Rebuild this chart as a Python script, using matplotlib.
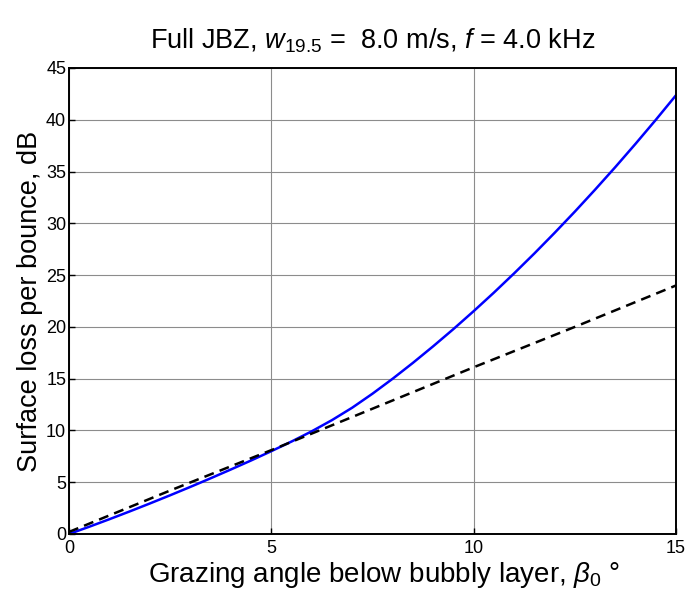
import numpy as np
import matplotlib
matplotlib.use("Agg")
from matplotlib import pyplot as plt

plt.rcParams['font.family'] = ['Liberation Sans', 'DejaVu Sans']
plt.rcParams['mathtext.fontset'] = 'custom'
plt.rcParams['mathtext.rm'] = 'Liberation Sans'
plt.rcParams['mathtext.it'] = 'Liberation Sans:italic'

# full JBZ curve (blue)
angle_full = [0, 0.5, 1, 1.5, 2, 2.5, 3, 3.5, 4, 4.5, 5, 5.5, 6, 6.5, 7, 7.5,
              8, 8.5, 9, 9.5, 10, 10.5, 11, 11.5, 12, 12.5, 13, 13.5, 14, 14.5, 15]
loss_full = [0.0, 0.7, 1.43, 2.18, 2.95, 3.74, 4.55, 5.38, 6.23, 7.1, 8.0, 8.93,
             9.92, 11.0, 12.2, 13.55, 15.0, 16.53, 18.13, 19.79, 21.52, 23.31, 25.17,
             27.09, 29.08, 31.13, 33.25, 35.43, 37.68, 39.99, 42.37]

# dashed reference line
angle_ref = [0, 2.5, 5, 7.5, 10, 12.5, 15]
loss_ref = [0.2, 4.2, 8.1, 12.1, 16.1, 20.0, 24.0]

fig = plt.figure(figsize=(6.88, 5.89), dpi=100)
ax = fig.add_axes([69 / 688, 1 - 534 / 589, (676 - 69) / 688, (534 - 68) / 589])

ax.plot(angle_full, loss_full, color='#0000ff', lw=1.8)
ax.plot(angle_ref, loss_ref, color='black', lw=1.8, ls=(0, (4, 2.5)))

ax.set_xlim(0, 15)
ax.set_ylim(0, 45)
ax.set_xticks([0, 5, 10, 15])
ax.set_yticks(range(0, 46, 5))
ax.grid(True, color='#8c8c8c', lw=0.8)
ax.tick_params(direction='in', labelsize=13, length=4, width=1, pad=2)
ax.tick_params(axis='x', pad=4)
for s in ax.spines.values():
    s.set_linewidth(1.4)

ax.set_title(r"Full JBZ, $w_{19.5}$ =  8.0 m/s, $f$ = 4.0 kHz", fontsize=19.5, pad=14)
ax.set_xlabel(r"Grazing angle below bubbly layer, $\beta_0$ °", fontsize=20)
ax.xaxis.set_label_coords(0.519, -0.056, transform=ax.transAxes)
ax.xaxis.label.set_va('top')
ax.set_ylabel("Surface loss per bounce, dB", fontsize=19.5, labelpad=2)

fig.savefig("out.png", dpi=100)
